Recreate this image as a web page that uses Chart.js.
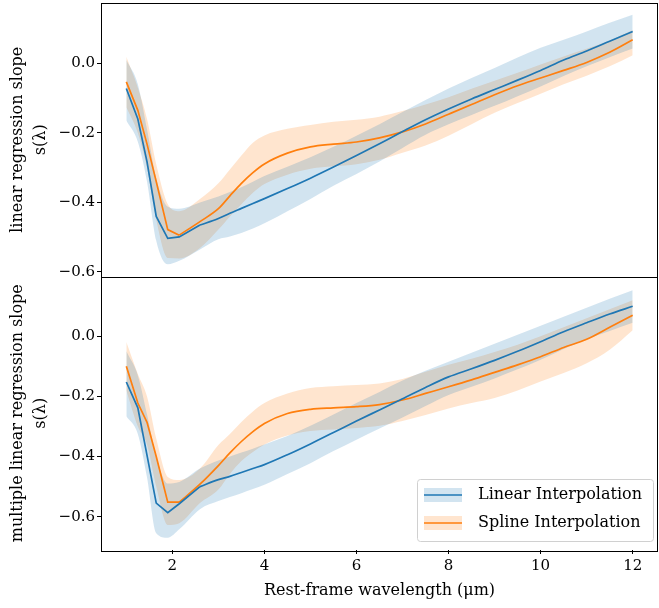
<!DOCTYPE html>
<html>
<head>
<meta charset="utf-8">
<script src="https://cdn.jsdelivr.net/npm/chart.js@4.4.1/dist/chart.umd.min.js"></script>
<style>
  html, body { margin: 0; padding: 0; background: #fff; }
  #wrap { width: 659px; height: 608px; }
</style>
</head>
<body>
<div id="wrap"><canvas id="slopeChart" width="659" height="608"></canvas></div>
<script>
// wavelength grid (rest-frame, micron)
const wavelength = [1.0, 1.25, 1.45, 1.65, 1.9, 2.15, 2.6, 3.0, 3.25, 3.5, 3.75, 4.0, 4.5, 5.0,
    5.5, 6.0, 6.5, 7.0, 7.5, 8.0, 8.5, 9.0, 9.5, 10.0, 10.5, 11.0, 11.5, 12.0];

// top panel: linear regression slope
const topLinear = [-0.072, -0.16, -0.283, -0.44, -0.503, -0.499, -0.465, -0.446, -0.431, -0.417, -0.403, -0.389, -0.36, -0.33,
    -0.298, -0.265, -0.231, -0.196, -0.162, -0.131, -0.102, -0.075, -0.048, -0.02, 0.01, 0.036, 0.064, 0.092];
const topLinearHi = [0.01, -0.06, -0.19, -0.33, -0.412, -0.418, -0.4, -0.383, -0.37, -0.356, -0.34, -0.324, -0.297, -0.27,
    -0.24, -0.208, -0.175, -0.14, -0.105, -0.072, -0.042, -0.013, 0.017, 0.045, 0.068, 0.092, 0.117, 0.14];
const topLinearLo = [-0.164, -0.225, -0.34, -0.51, -0.578, -0.568, -0.535, -0.506, -0.498, -0.488, -0.475, -0.46, -0.425, -0.39,
    -0.352, -0.318, -0.282, -0.243, -0.205, -0.175, -0.148, -0.122, -0.094, -0.066, -0.036, -0.008, 0.018, 0.043];
const topSpline = [-0.053, -0.135, -0.232, -0.34, -0.478, -0.494, -0.455, -0.418, -0.381, -0.345, -0.314, -0.289, -0.258, -0.24,
    -0.232, -0.226, -0.214, -0.197, -0.174, -0.146, -0.118, -0.09, -0.064, -0.042, -0.02, 0.003, 0.032, 0.068];
const topSplineHi = [0.019, -0.07, -0.16, -0.29, -0.405, -0.425, -0.39, -0.345, -0.305, -0.265, -0.228, -0.207, -0.188, -0.177,
    -0.168, -0.162, -0.153, -0.137, -0.118, -0.097, -0.073, -0.05, -0.027, -0.003, 0.02, 0.042, 0.066, 0.096];
const topSplineLo = [-0.126, -0.2, -0.3, -0.45, -0.56, -0.561, -0.531, -0.478, -0.44, -0.405, -0.372, -0.347, -0.32, -0.303,
    -0.296, -0.29, -0.277, -0.257, -0.236, -0.208, -0.175, -0.142, -0.114, -0.087, -0.06, -0.035, -0.008, 0.024];

// bottom panel: multiple linear regression slope
const botLinear = [-0.152, -0.238, -0.396, -0.555, -0.587, -0.557, -0.5, -0.477, -0.466, -0.453, -0.44, -0.427, -0.394, -0.358,
    -0.32, -0.282, -0.245, -0.208, -0.17, -0.135, -0.108, -0.08, -0.05, -0.018, 0.015, 0.045, 0.074, 0.1];
const botLinearHi = [-0.05, -0.13, -0.26, -0.4, -0.49, -0.485, -0.44, -0.413, -0.4, -0.387, -0.374, -0.36, -0.332, -0.298,
    -0.26, -0.222, -0.185, -0.147, -0.115, -0.085, -0.055, -0.025, 0.005, 0.035, 0.065, 0.095, 0.125, 0.153];
const botLinearLo = [-0.266, -0.325, -0.47, -0.655, -0.67, -0.642, -0.575, -0.548, -0.535, -0.522, -0.508, -0.494, -0.458, -0.422,
    -0.382, -0.344, -0.307, -0.27, -0.232, -0.195, -0.168, -0.14, -0.11, -0.078, -0.042, -0.01, 0.018, 0.045];
const botSpline = [-0.1, -0.222, -0.286, -0.4, -0.552, -0.552, -0.492, -0.43, -0.388, -0.35, -0.317, -0.29, -0.257, -0.243,
    -0.238, -0.234, -0.227, -0.212, -0.19, -0.168, -0.145, -0.12, -0.095, -0.068, -0.037, -0.01, 0.03, 0.07];
const botSplineHi = [-0.019, -0.125, -0.2, -0.34, -0.468, -0.478, -0.44, -0.362, -0.325, -0.285, -0.25, -0.222, -0.19, -0.172,
    -0.166, -0.162, -0.157, -0.142, -0.118, -0.095, -0.075, -0.052, -0.028, 0.0, 0.03, 0.06, 0.09, 0.12];
const botSplineLo = [-0.18, -0.3, -0.36, -0.5, -0.628, -0.622, -0.555, -0.51, -0.458, -0.415, -0.385, -0.36, -0.33, -0.315,
    -0.31, -0.305, -0.298, -0.282, -0.262, -0.24, -0.222, -0.205, -0.18, -0.15, -0.122, -0.09, -0.045, 0.02];

const xTicks = [2, 4, 6, 8, 10, 12];
const yTicks = [-0.6, -0.4, -0.2, 0.0];
const seriesNames = ["Linear Interpolation", "Spline Interpolation"];

const BLUE = "#1f77b4", ORANGE = "#ff7f0e";
const BLUE_FILL = "rgba(31,119,180,0.2)", ORANGE_FILL = "rgba(255,127,14,0.2)";
const FONT = "'DejaVu Serif', 'Liberation Serif', serif";

function pts(ys, from, to) {
    return wavelength.map((x, i) => ({ x: x, y: ys[i] })).slice(from || 0, to);
}

function band(hi, lo, color, axis) {
    return [
        { data: pts(hi), yAxisID: axis, borderWidth: 0, pointRadius: 0, fill: "+1", backgroundColor: color,
          cubicInterpolationMode: "monotone" },
        { data: pts(lo), yAxisID: axis, borderWidth: 0, pointRadius: 0, fill: false, backgroundColor: color,
          cubicInterpolationMode: "monotone" }
    ];
}

// the dip is drawn with straight segments, the rest as a smooth curve
function line(ys, color, axis, knee) {
    const base = { yAxisID: axis, borderColor: color, borderWidth: 1.7, pointRadius: 0, fill: false };
    return [
        Object.assign({ data: pts(ys, 0, knee + 1), tension: 0 }, base),
        Object.assign({ data: pts(ys, knee), cubicInterpolationMode: "monotone" }, base)
    ];
}

function fmt(v) {
    return (v < -1e-9 ? "\u2212" : "") + Math.abs(v).toFixed(1);
}

function yAxis(title, min, max) {
    return {
        type: "linear",
        position: "left",
        stack: "panels",
        stackWeight: 1,
        min: min,
        max: max,
        afterBuildTicks: s => { s.ticks = yTicks.map(v => ({ value: v })); },
        afterFit: s => { s.width = 101; s.paddingTop = 0; s.paddingBottom = 0; },
        ticks: { callback: fmt, color: "#000", padding: 2, font: { family: FONT, size: 15 } },
        grid: { drawOnChartArea: false, drawTicks: true, tickLength: 4, color: "#000" },
        border: { display: false },
        title: { display: true, text: title, color: "#000", padding: { top: 7, bottom: 0 },
                 font: { family: FONT, size: 16, lineHeight: 1.4 } }
    };
}

// box around each panel
const frames = {
    id: "frames",
    afterDraw(chart) {
        const { ctx, chartArea } = chart;
        ctx.save();
        ctx.strokeStyle = "#000";
        ctx.lineWidth = 1;
        ["yTop", "yBot"].forEach(id => {
            const s = chart.scales[id];
            ctx.strokeRect(Math.round(chartArea.left) + 0.5, Math.round(s.top) + 0.5,
                Math.round(chartArea.right - chartArea.left) - 1, Math.round(s.bottom - s.top));
        });
        ctx.restore();
    }
};

// matplotlib-like legend in the lower panel
const legendBox = {
    id: "legendBox",
    afterDraw(chart) {
        const { ctx, chartArea } = chart;
        const s = chart.scales.yBot;
        const w = 236, h = 62;
        const x0 = chartArea.right - 5 - w, y0 = s.bottom - 9 - h;
        ctx.save();
        ctx.beginPath();
        ctx.roundRect(x0 + 0.5, y0 + 0.5, w, h, 3);
        ctx.fillStyle = "rgba(255,255,255,0.8)";
        ctx.fill();
        ctx.strokeStyle = "#d0d0d0";
        ctx.lineWidth = 1;
        ctx.stroke();
        const cols = [[BLUE, BLUE_FILL], [ORANGE, ORANGE_FILL]];
        seriesNames.forEach((name, i) => {
            const cy = y0 + 16 + i * 28;
            ctx.fillStyle = cols[i][1];
            ctx.fillRect(x0 + 7, cy - 7, 38, 14);
            ctx.strokeStyle = cols[i][0];
            ctx.lineWidth = 1.7;
            ctx.beginPath();
            ctx.moveTo(x0 + 7, cy);
            ctx.lineTo(x0 + 45, cy);
            ctx.stroke();
            ctx.fillStyle = "#000";
            ctx.font = "16px " + FONT;
            ctx.textBaseline = "middle";
            ctx.fillText(name, x0 + 61, cy);
        });
        ctx.restore();
    }
};

new Chart(document.getElementById("slopeChart"), {
    type: "line",
    data: {
        datasets: [
            ...band(topLinearHi, topLinearLo, BLUE_FILL, "yTop"),
            ...band(topSplineHi, topSplineLo, ORANGE_FILL, "yTop"),
            ...line(topLinear, BLUE, "yTop", 6),
            ...line(topSpline, ORANGE, "yTop", 5),
            ...band(botLinearHi, botLinearLo, BLUE_FILL, "yBot"),
            ...band(botSplineHi, botSplineLo, ORANGE_FILL, "yBot"),
            ...line(botLinear, BLUE, "yBot", 6),
            ...line(botSpline, ORANGE, "yBot", 5)
        ]
    },
    options: {
        responsive: false,
        animation: false,
        events: [],
        layout: { autoPadding: false, padding: { top: 3, right: 1, left: 0, bottom: 0 } },
        plugins: {
            legend: { display: false },
            tooltip: { enabled: false },
            filler: { drawTime: "beforeDatasetsDraw" }
        },
        scales: {
            x: {
                type: "linear",
                min: 0.45,
                max: 12.55,
                afterBuildTicks: s => { s.ticks = xTicks.map(v => ({ value: v })); },
                afterFit: s => { s.height = 58; s.paddingLeft = 0; s.paddingRight = 0; },
                ticks: { color: "#000", padding: 3, font: { family: FONT, size: 15 } },
                grid: { drawOnChartArea: false, drawTicks: true, tickLength: 4, color: "#000" },
                border: { display: false },
                title: { display: true, text: "Rest-frame wavelength (\u03bcm)", color: "#000",
                         padding: { top: 0, bottom: 8 }, font: { family: FONT, size: 16 } }
            },
            // stacked panels: the later one in this list ends up on top
            yBot: yAxis(["multiple linear regression slope", "s(\u03bb)"], -0.711, 0.199),
            yTop: yAxis(["linear regression slope", "s(\u03bb)"], -0.613, 0.174)
        }
    },
    plugins: [frames, legendBox]
});
</script>
</body>
</html>
